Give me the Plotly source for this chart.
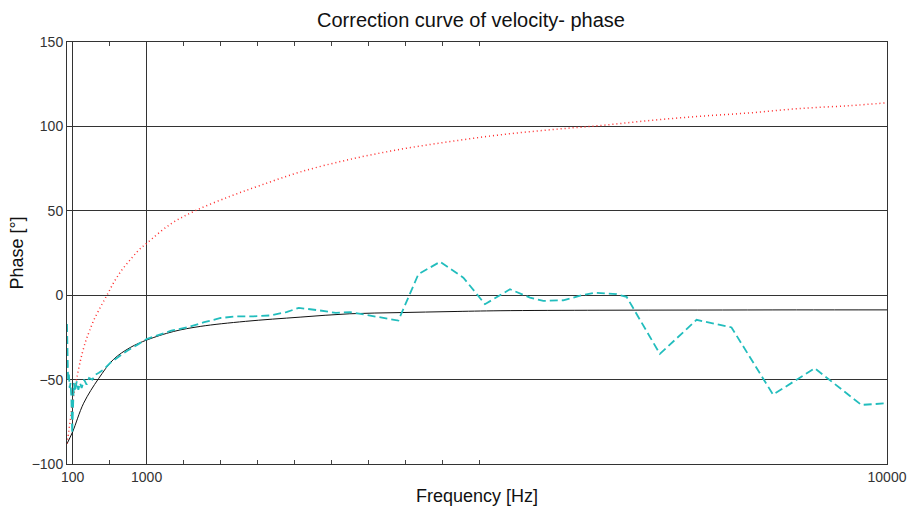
import plotly.graph_objects as go

# ---- data ----
red_f = [32, 72, 93, 112, 153, 194, 214, 254, 275, 307, 356, 436, 518, 606, 700, 801,
         900, 1007, 1287, 1590, 2016, 2380, 2866, 3473, 4080, 4688, 5296, 5903, 6511,
         7118, 7726, 8333, 8940, 9548, 10000]
red_phase = [-88, -74, -66, -60, -48.5, -39, -35, -28, -25, -21, -15, -7.3, 0, 8, 15, 21,
             26.5, 31, 42, 50, 58.6, 65, 73, 80.5, 86.4, 91, 95, 98, 100.5,
             103.5, 106, 108, 110.6, 112.3, 114]

black_f = [32, 100, 234, 416, 598, 801, 1004, 1327, 1651, 2200, 2866, 3470, 4080, 4700,
           5296, 6511, 7700, 8900, 10000]
black_phase = [-88, -81, -64, -49.4, -38, -31, -26.5, -21.5, -18.5, -15.5, -13, -11, -10.3,
               -9.7, -9.2, -8.9, -8.8, -8.7, -8.7]

teal_f = [32, 35, 38, 45, 55, 65, 75, 85, 95, 105, 115, 130, 150, 170, 190, 210, 240, 270,
          300, 340, 380, 420, 480, 560, 650, 760, 900, 1000, 1150, 1300, 1500, 1700, 1900,
          2100, 2300, 2500, 2700, 2850, 3100, 3300, 3473, 3716, 4060, 4303, 4567, 4850,
          5113, 5417, 5660, 5822, 6065, 6307, 6450, 6713, 6835, 7239, 7685, 8110, 8615,
          9122, 9689, 10000]
teal_phase = [-17, -35, -45, -50, -47, -55, -52, -60, -82, -58, -52, -57, -51, -56, -52, -55,
              -50, -53, -49, -50, -47, -46, -44, -40, -37, -33, -29, -26, -23.5, -21, -19,
              -16, -13.5, -12.5, -12.5, -12, -10, -7.5, -9, -10.5, -10, -12, -15, 12.4, 19.8,
              10.4, -5.3, 3.5, -1.4, -3.4, -3, 0.2, 1.5, 0.6, -1, -34.8, -14.6, -19.1, -58.9,
              -43.3, -65, -64]

x_ticks = [100, 1000, 10000]
x_minor = [550, 1450, 1900, 2350, 2800, 3250, 3700, 4150, 4600, 5050]
y_ticks = [-100, -50, 0, 50, 100, 150]

FONT = "Liberation Sans, Arial, sans-serif"

fig = go.Figure()
fig.add_trace(go.Scatter(x=black_f, y=black_phase, mode="lines", line_shape="spline",
                         line=dict(color="#111111", width=1), showlegend=False))
fig.add_trace(go.Scatter(x=red_f, y=red_phase, mode="lines", line_shape="spline",
                         line=dict(color="#FF2A2A", width=1.5, dash="1px,3px"),
                         showlegend=False))
fig.add_trace(go.Scatter(x=teal_f, y=teal_phase, mode="lines",
                         line=dict(color="#22BDBD", width=1.8, dash="8px,4px"),
                         showlegend=False))
# invisible trace to bind the top axis (for its ticks)
fig.add_trace(go.Scatter(x=[x_ticks[0]], y=[y_ticks[0]], xaxis="x2", mode="lines",
                         hoverinfo="skip", showlegend=False, line=dict(width=0)))

fig.update_layout(
    width=911, height=506,
    margin=dict(l=66.5, r=23.5, t=41.5, b=42),
    paper_bgcolor="white", plot_bgcolor="white",
    font=dict(family=FONT, size=14, color="#222222"),
    title=dict(text="Correction curve of velocity- phase", x=471 / 911, xanchor="center",
               y=1 - 20 / 506, yanchor="middle",
               font=dict(family=FONT, size=20, color="#111111")),
    xaxis=dict(range=[32, 10000], tickmode="array", tickvals=x_ticks,
               ticktext=[str(v) for v in x_ticks], automargin=False,
               showgrid=True, gridcolor="#333333", gridwidth=1,
               showline=True, linecolor="#333333", linewidth=1, mirror=True,
               ticks="inside", ticklen=4, tickcolor="#333333",
               minor=dict(tickmode="array", tickvals=x_minor, ticks="inside",
                          ticklen=4, tickcolor="#444444", showgrid=False),
               zeroline=False,
               tickfont=dict(family=FONT, size=14, color="#333333"),
               title=dict(text="Frequency [Hz]", standoff=8,
                          font=dict(family=FONT, size=18, color="#111111"))),
    xaxis2=dict(range=[32, 10000], overlaying="x", side="top", matches="x",
                showticklabels=False, showgrid=False, zeroline=False, automargin=False,
                tickmode="array", tickvals=x_ticks, ticks="inside", ticklen=4,
                tickcolor="#333333",
                minor=dict(tickmode="array", tickvals=x_minor, ticks="inside",
                           ticklen=4, tickcolor="#444444", showgrid=False)),
    yaxis=dict(range=[-100, 150], tickmode="array", tickvals=y_ticks, automargin=False,
               showgrid=True, gridcolor="#333333", gridwidth=1,
               showline=True, linecolor="#333333", linewidth=1, mirror=True,
               ticks="", zeroline=False,
               tickfont=dict(family=FONT, size=14, color="#333333"),
               title=dict(text="Phase [°]", standoff=3,
                          font=dict(family=FONT, size=18, color="#111111"))),
)

fig.write_html("out.html")
